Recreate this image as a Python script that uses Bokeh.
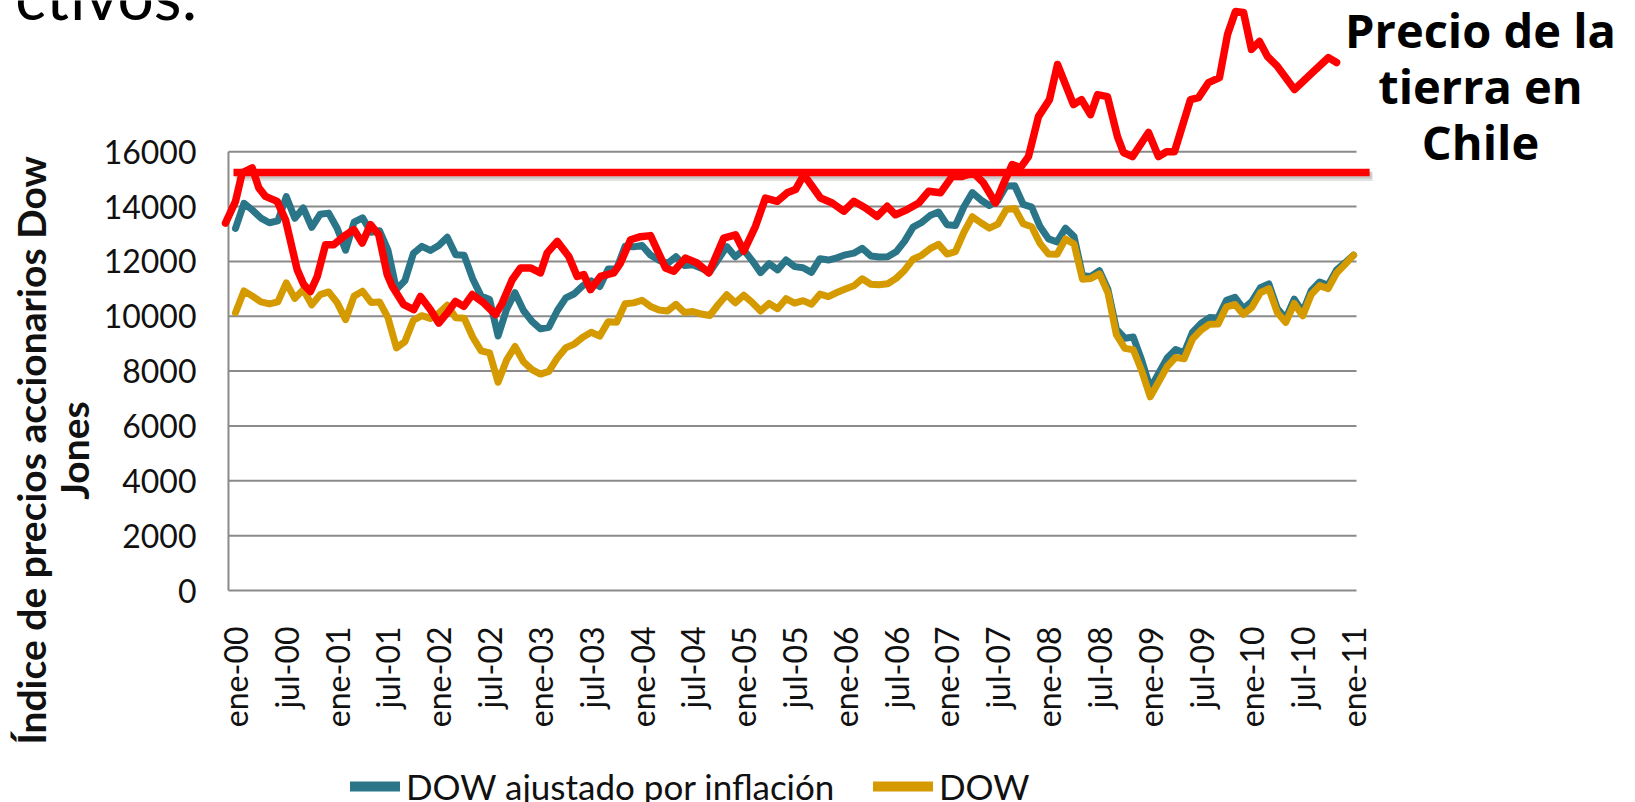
import math
from bokeh.plotting import figure
from bokeh.models import Range1d, Label, Legend, LegendItem
from bokeh.core.properties import value
from bokeh.embed import file_html
from bokeh.resources import INLINE

# ---------------- data ----------------
meses = list(range(133))  # ene-00 ... ene-11 (monthly)

dow = [10128, 10922, 10734, 10522, 10448, 10522, 11215, 10651, 10971, 10414, 10788,
       10887, 10495, 9879, 10735, 10912, 10502, 10523, 9950, 8848, 9075, 9852, 10022,
       9920, 10106, 10404, 9946, 9925, 9243, 8737, 8664, 7592, 8397, 8896, 8342,
       8054, 7891, 7992, 8480, 8850, 8985, 9234, 9416, 9275, 9801, 9782, 10454,
       10488, 10584, 10358, 10226, 10188, 10435, 10140, 10174, 10080, 10027, 10428, 10783,
       10490, 10766, 10504, 10193, 10467, 10275, 10641, 10482, 10569, 10440, 10806, 10718,
       10865, 10993, 11109, 11367, 11168, 11150, 11186, 11381, 11679, 12081, 12222, 12463,
       12622, 12269, 12354, 13063, 13628, 13409, 13212, 13358, 13896, 13930, 13372, 13265,
       12650, 12266, 12263, 12820, 12638, 11350, 11378, 11544, 10851, 9325, 8829, 8776,
       8001, 7063, 7609, 8168, 8500, 8447, 9172, 9496, 9712, 9713, 10345, 10428,
       10067, 10325, 10857, 11009, 10137, 9774, 10466, 10015, 10788, 11118, 11006, 11578,
       11892, 12226]

dow_ajustado = [13200, 14120, 13870, 13580, 13410, 13480, 14360, 13570, 13950, 13240, 13720,
                13760, 13210, 12410, 13430, 13590, 13060, 13120, 12410, 10980, 11300, 12290, 12550,
                12400, 12580, 12880, 12240, 12220, 11370, 10740, 10610, 9280, 10250, 10860, 10210,
                9810, 9540, 9600, 10210, 10670, 10820, 11110, 11290, 11080, 11720, 11730, 12550,
                12530, 12580, 12230, 12040, 11920, 12170, 11850, 11880, 11750, 11620, 12080, 12540,
                12170, 12420, 12030, 11590, 11920, 11690, 12050, 11810, 11770, 11600, 12100, 12050,
                12130, 12240, 12300, 12480, 12200, 12160, 12170, 12350, 12740, 13250, 13420, 13670,
                13800, 13340, 13310, 13990, 14510, 14240, 14040, 14220, 14750, 14760, 14080, 13980,
                13260, 12820, 12710, 13210, 12910, 11480, 11450, 11660, 10980, 9530, 9200, 9240,
                8390, 7370, 7920, 8480, 8790, 8670, 9420, 9740, 9950, 9940, 10580, 10690,
                10280, 10540, 11040, 11180, 10280, 9920, 10620, 10150, 10930, 11250, 11130, 11690,
                11950, 12230]

# "Precio de la tierra en Chile" (drawn curve, in month-index units)
tierra_x = [-1.18, 0.0, 0.79, 1.97, 2.75, 3.54, 4.92, 5.90, 7.28, 8.06, 8.85, 9.65, 10.63, 11.61,
            12.79, 13.97, 14.96, 15.94, 16.92, 17.91, 18.50, 19.87, 21.05, 21.84, 23.02, 24.00,
            24.99, 25.97, 26.95, 27.95, 29.32, 30.70, 31.49, 32.67, 33.65, 34.83, 36.01, 36.80,
            37.98, 39.35, 40.34, 41.12, 41.91, 43.09, 44.66, 45.45, 46.64, 47.82, 49.00, 50.77,
            51.75, 53.13, 54.51, 55.88, 57.65, 59.03, 60.01, 61.39, 62.57, 63.95, 65.13, 66.12,
            67.10, 69.07, 70.45, 71.82, 73.00, 74.38, 75.76, 76.94, 77.92, 79.30, 80.67, 81.85,
            83.23, 84.61, 85.79, 87.13, 88.31, 89.73, 90.71, 91.70, 92.68, 93.62, 94.80, 96.10,
            97.05, 98.94, 99.88, 100.94, 101.77, 102.95, 104.13, 104.84, 105.90, 107.79, 108.97,
            109.92, 110.86, 112.75, 113.70, 114.88, 116.17, 117.12, 118.06, 119.01, 119.95,
            120.90, 121.84, 123.02, 125.03, 127.15, 129.04, 130.00]
tierra_y = [13400, 14190, 15230, 15410, 14680, 14370, 14190, 13520, 11700, 11150, 10900, 11450,
            12610, 12610, 12910, 13160, 12670, 13340, 12970, 11520, 11090, 10420, 10240, 10720,
            10240, 9750, 10120, 10540, 10360, 10790, 10480, 10060, 10480, 11330, 11760, 11760,
            11580, 12310, 12730, 12180, 11450, 11520, 10970, 11450, 11580, 11940, 12790, 12900,
            12940, 11760, 11640, 12120, 11940, 11580, 12850, 12970, 12370, 13280, 14310, 14190,
            14500, 14620, 15160, 14310, 14130, 13830, 14190, 13950, 13640, 14010, 13700, 13890,
            14130, 14560, 14500, 15100, 15100, 15230, 14860, 14130, 14860, 15530, 15420, 15820,
            17280, 17900, 19180, 17720, 17900, 17350, 18080, 18010, 16550, 15970, 15820, 16700,
            15820, 16000, 16000, 17900, 17970, 18520, 18700, 20270, 21110, 21080, 19730, 20020,
            19470, 19110, 18270, 18890, 19430, 19250]

referencia_y = 15245
referencia_x = [-0.24, 133.9]

y_ticks = [0, 2000, 4000, 6000, 8000, 10000, 12000, 14000, 16000]
y_tick_labels = ["0", "2000", "4000", "6000", "8000", "10000", "12000", "14000", "16000"]
x_ticks = [0, 6, 12, 18, 24, 30, 36, 42, 48, 54, 60, 66, 72, 78, 84, 90, 96, 102, 108, 114, 120, 126, 132]
x_tick_labels = ["ene-00", "jul-00", "ene-01", "jul-01", "ene-02", "jul-02", "ene-03", "jul-03",
                 "ene-04", "jul-04", "ene-05", "jul-05", "ene-06", "jul-06", "ene-07", "jul-07",
                 "ene-08", "jul-08", "ene-09", "jul-09", "ene-10", "jul-10", "ene-11"]

serie_ajustada = "DOW ajustado por inflación"
serie_dow = "DOW"
titulo_y = ["Índice de precios accionarios Dow", "Jones"]
titulo_tierra = ["Precio de la", "tierra en", "Chile"]
texto_superior = "ctivos:"

# ---------------- style / layout ----------------
TEAL = "#2A7688"
GOLD = "#D49A00"
RED = "#FF0000"
GRID = "#8A8A8A"
TXT = "#111111"
AXIS_X = -0.83       # left axis position (index units)
GRID_X1 = 132.35     # right end of grid lines
NAN = float("nan")

W, H = 1635, 802
p = figure(width=W, height=H, output_backend="svg", toolbar_location=None, title=None,
           x_range=Range1d(-27.745, 165.29), y_range=Range1d(-7730, 21513),
           min_border=0, x_axis_type=None, y_axis_type=None)
p.outline_line_color = None
p.background_fill_color = "white"
p.border_fill_color = "white"
p.xgrid.visible = False
p.ygrid.visible = False

# grid lines and left axis line
p.segment(x0=[AXIS_X] * len(y_ticks), y0=y_ticks, x1=[GRID_X1] * len(y_ticks), y1=y_ticks,
          line_color=GRID, line_width=2)
p.segment(x0=[AXIS_X], y0=[y_ticks[0]], x1=[AXIS_X], y1=[y_ticks[-1]], line_color=GRID, line_width=2)

# tick labels
p.text(x=[AXIS_X] * len(y_ticks), y=y_ticks, text=y_tick_labels, x_offset=-32,
       text_align="right", text_baseline="middle", text_font=value("Lato"),
       text_font_size="32px", text_color=TXT)
p.text(x=x_ticks, y=[y_ticks[0]] * len(x_ticks), text=x_tick_labels, y_offset=36,
       angle=math.pi / 2, text_align="right", text_baseline="middle", text_font=value("Lato"),
       text_font_size="32px", text_color=TXT)

# series
p.line(meses, dow_ajustado, line_color=TEAL, line_width=7, line_join="round", line_cap="round")
p.line(meses, dow, line_color=GOLD, line_width=7, line_join="round", line_cap="round")

# reference red line with drop shadow
p.line([x + 0.35 for x in referencia_x], [referencia_y - 150] * 2, line_color="#7a7a7a",
       line_width=9, line_alpha=0.22)
p.line([x + 0.25 for x in referencia_x], [referencia_y - 100] * 2, line_color="#7a7a7a",
       line_width=7, line_alpha=0.25)
p.line(referencia_x, [referencia_y] * 2, line_color=RED, line_width=7.5, line_cap="butt")

# land price curve
p.line(tierra_x, tierra_y, line_color=RED, line_width=7.5, line_join="round", line_cap="round")

# legends (legend-only renderers: a single NaN point draws nothing on the plot)
r_leg1 = p.line(x=[NAN], y=[NAN], line_color=TEAL, line_width=10, line_cap="round")
r_leg2 = p.line(x=[NAN], y=[NAN], line_color=GOLD, line_width=10, line_cap="round")
common = dict(orientation="horizontal", glyph_height=44, label_height=44, padding=0, margin=0,
              border_line_color=None, background_fill_alpha=0, label_text_font="Lato",
              label_text_font_size="35px", label_text_color=TXT)
leg1 = Legend(items=[LegendItem(label=serie_ajustada, renderers=[r_leg1])], location=(350, -6),
              glyph_width=50, label_standoff=6, **common)
leg2 = Legend(items=[LegendItem(label=serie_dow, renderers=[r_leg2])], location=(873, -6),
              glyph_width=60, label_standoff=6, **common)
p.add_layout(leg1, "center")
p.add_layout(leg2, "center")

# y axis title (two lines, rotated)
for txt, xv in zip(titulo_y, [-24.20, -19.01]):
    p.add_layout(Label(x=xv, y=5105, text=txt, angle=math.pi / 2, text_align="center",
                       text_baseline="middle", text_font="Lato", text_font_style="bold",
                       text_font_size="39px", text_color=TXT))

# annotation text at right
for txt, yv in zip(titulo_tierra, [20452, 18410, 16368]):
    p.add_layout(Label(x=146.99, y=yv, text=txt, text_align="center", text_baseline="alphabetic",
                       text_font="Open Sans", text_font_style="bold", text_font_size="47px",
                       text_color="#000000"))

# cut-off slide text at the top-left
p.add_layout(Label(x=-4.49, y=21696, text=texto_superior, text_align="right",
                   text_baseline="alphabetic", text_font="Lato", text_font_size="64px",
                   text_color="#000000"))

open("out.html", "w").write(file_html(p, INLINE))
